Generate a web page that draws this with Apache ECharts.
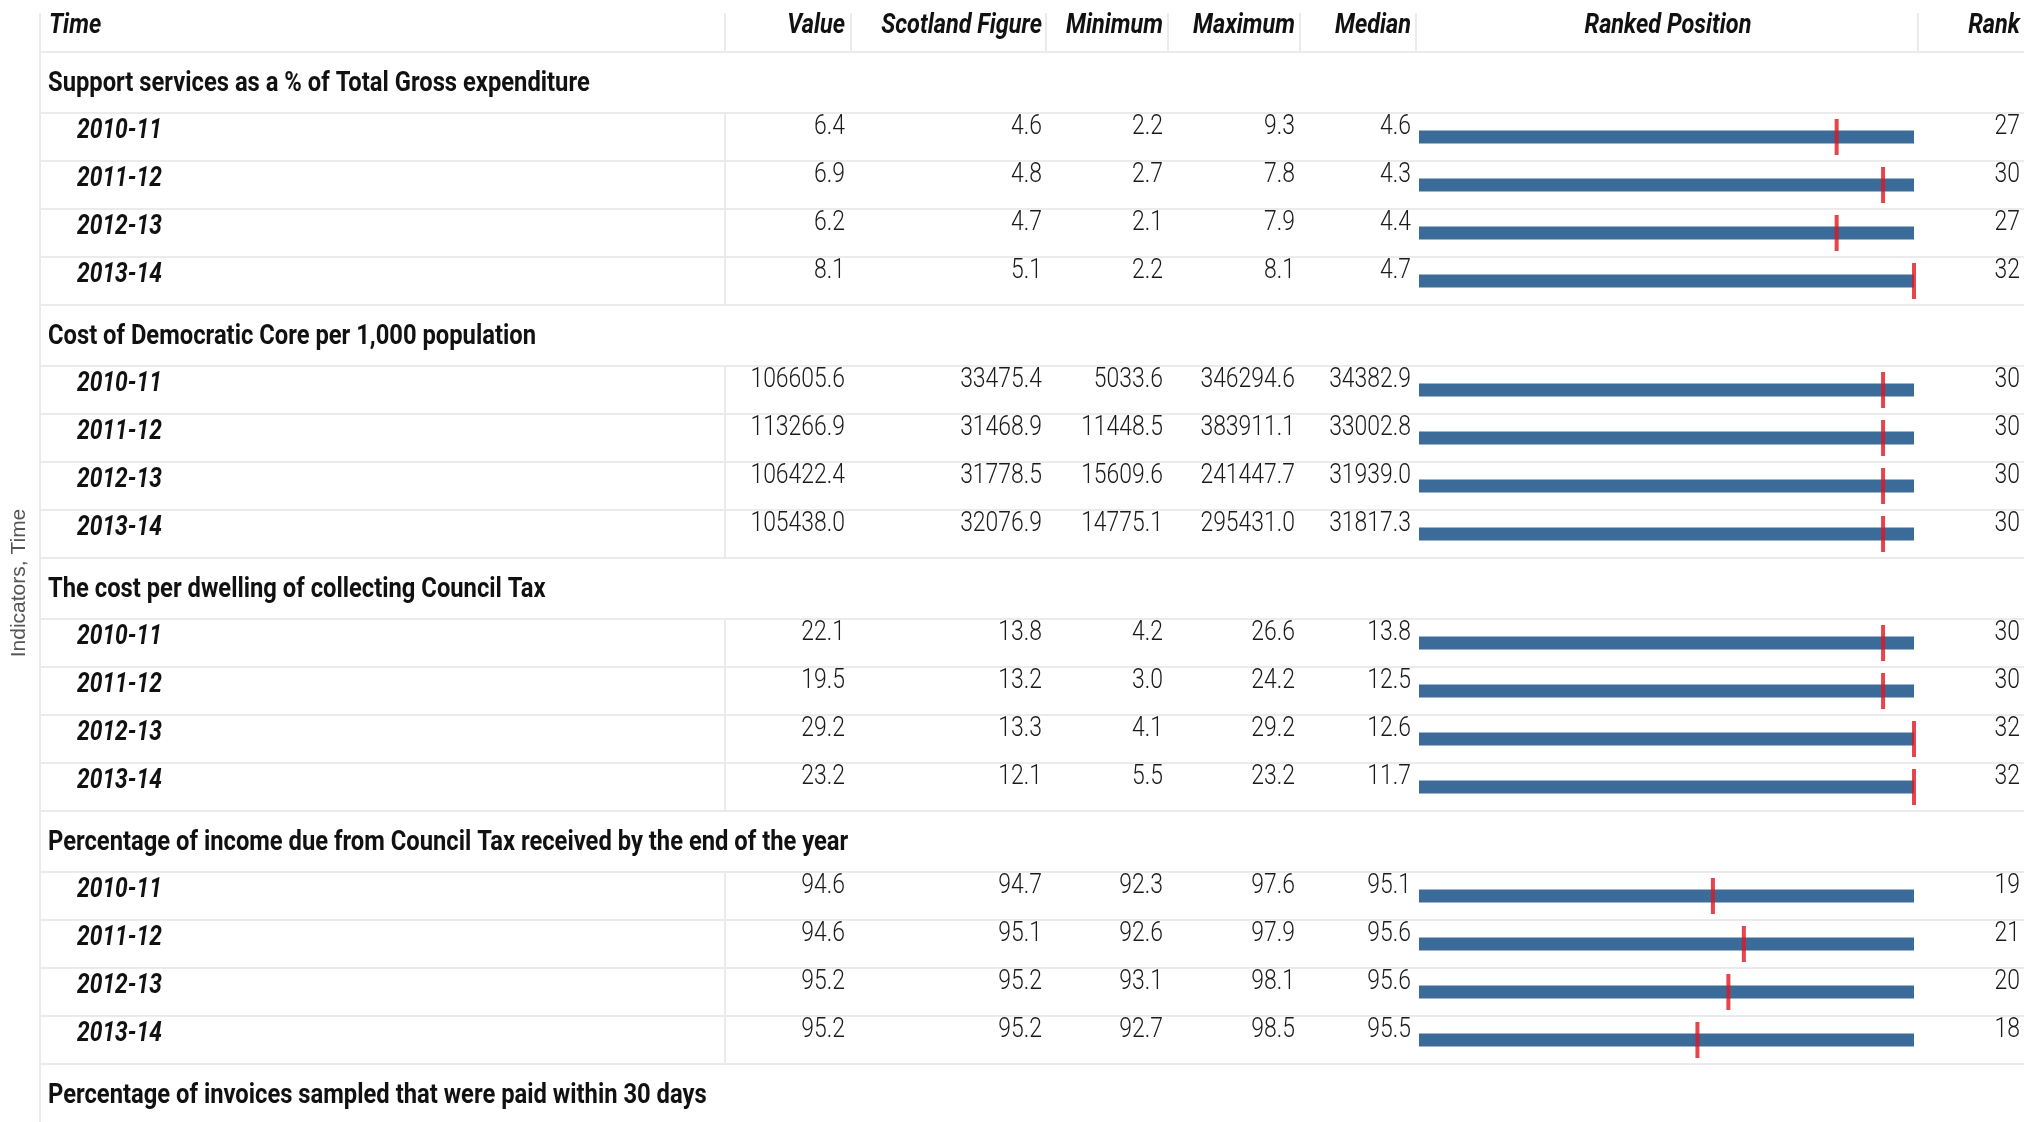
<!DOCTYPE html>
<html><head><meta charset="utf-8">
<script src="https://cdn.jsdelivr.net/npm/echarts/dist/echarts.min.js"></script>
<style>html,body{margin:0;padding:0;background:#fff}#c{width:2024px;height:1122px}</style>
</head><body><div id="c"></div>
<script>
// ---------- DATA ----------
var indicators = [
  'Support services as a % of Total Gross expenditure',
  'Cost of Democratic Core per 1,000 population',
  'The cost per dwelling of collecting Council Tax',
  'Percentage of income due from Council Tax received by the end of the year',
  'Percentage of invoices sampled that were paid within 30 days'
];
var years = ['2010-11', '2011-12', '2012-13', '2013-14'];
var columnTitles = ['Value', 'Scotland Figure', 'Minimum', 'Maximum', 'Median'];
var valueData = [
  [6.4, 6.9, 6.2, 8.1],
  [106605.6, 113266.9, 106422.4, 105438.0],
  [22.1, 19.5, 29.2, 23.2],
  [94.6, 94.6, 95.2, 95.2]
];
var scotlandData = [
  [4.6, 4.8, 4.7, 5.1],
  [33475.4, 31468.9, 31778.5, 32076.9],
  [13.8, 13.2, 13.3, 12.1],
  [94.7, 95.1, 95.2, 95.2]
];
var minimumData = [
  [2.2, 2.7, 2.1, 2.2],
  [5033.6, 11448.5, 15609.6, 14775.1],
  [4.2, 3.0, 4.1, 5.5],
  [92.3, 92.6, 93.1, 92.7]
];
var maximumData = [
  [9.3, 7.8, 7.9, 8.1],
  [346294.6, 383911.1, 241447.7, 295431.0],
  [26.6, 24.2, 29.2, 23.2],
  [97.6, 97.9, 98.1, 98.5]
];
var medianData = [
  [4.6, 4.3, 4.4, 4.7],
  [34382.9, 33002.8, 31939.0, 31817.3],
  [13.8, 12.5, 12.6, 11.7],
  [95.1, 95.6, 95.6, 95.5]
];
var rankData = [
  [27, 30, 27, 32],
  [30, 30, 30, 30],
  [30, 30, 32, 32],
  [19, 21, 20, 18]
];
var councilCount = 32;

// ---------- LAYOUT / STYLE ----------
var FONT = 'Roboto, "DejaVu Sans Condensed", sans-serif';
var LINE = '#ebebeb';
var HEADER_TOP = 13, HEADER_H = 52, TITLE_H = 61, ROW_H = 48;
var SECTION_H = TITLE_H + ROW_H * 4;
var TABLE_LEFT = 40, TABLE_RIGHT = 2024;
var colRight = [845, 1042, 1163, 1295, 1411];
var headerSeps = [725, 851, 1046, 1168, 1300, 1416, 1918];
var RANK_RIGHT = 2020, YEAR_X = 77, TITLE_X = 48, VALUE_SEP = 725;
var BAR_LEFT = 1419, BAR_W = 495;
var SX_TITLE = 0.88, SX_HEAD = 0.87, SX_YEAR = 0.845, SX_VAL = 0.85;

var chart = echarts.init(document.getElementById('c'), null, {renderer: 'canvas'});
var grids = [], xAxes = [], yAxes = [], series = [], graphics = [];
var dataColumns = [valueData, scotlandData, minimumData, maximumData, medianData];

function secTop(i) { return HEADER_H + i * SECTION_H; }
function lineEl(x1, y1, x2, y2) {
  return {type: 'line', shape: {x1: x1, y1: y1, x2: x2, y2: y2}, style: {stroke: LINE, lineWidth: 2}};
}

// header
graphics.push(lineEl(TABLE_LEFT, HEADER_TOP, TABLE_LEFT, 1122));
graphics.push(lineEl(TABLE_LEFT, HEADER_H, TABLE_RIGHT, HEADER_H));
headerSeps.forEach(function (x) { graphics.push(lineEl(x, HEADER_TOP, x, HEADER_H)); });
function headText(t, x, align) {
  graphics.push({type: 'text', x: x, y: 26, scaleX: SX_HEAD, style: {text: t, align: align, verticalAlign: 'middle',
    fontFamily: FONT, fontSize: 27, fontStyle: 'italic', fontWeight: 'bold', fill: '#111'}});
}
headText('Time', 49, 'left');
columnTitles.forEach(function (t, j) { headText(t, colRight[j], 'right'); });
headText('Ranked Position', 1668, 'center');
headText('Rank', RANK_RIGHT, 'right');

graphics.push({type: 'text', x: 19, y: 583, rotation: Math.PI / 2,
  style: {text: 'Indicators, Time', align: 'center', verticalAlign: 'middle',
    fontFamily: '"Liberation Sans", Arial, sans-serif', fontSize: 21, fill: '#555'}});

// section titles
indicators.forEach(function (name, i) {
  graphics.push({type: 'text', x: TITLE_X, y: secTop(i) + TITLE_H / 2 + 2, scaleX: SX_TITLE,
    style: {text: name, align: 'left', verticalAlign: 'middle', fontFamily: FONT,
      fontSize: 27, fontWeight: 'bold', fill: '#111'}});
  graphics.push(lineEl(TABLE_LEFT, secTop(i), TABLE_RIGHT, secTop(i)));
});

for (var i = 0; i < 4; i++) {
  (function (i) {
    grids.push({left: BAR_LEFT, width: BAR_W, top: secTop(i) + TITLE_H, height: ROW_H * 4});
    xAxes.push({type: 'value', gridIndex: i, min: 0, max: councilCount, show: false});
    yAxes.push({type: 'category', gridIndex: i, data: years, inverse: true, show: false});

    series.push({
      type: 'custom', xAxisIndex: i, yAxisIndex: i, z: 1, clip: false,
      data: years.map(function (y, k) { return [0, k]; }),
      encode: {x: 0, y: 1},
      renderItem: function (params, api) {
        var k = params.dataIndex;
        var cy = api.coord([0, k])[1];
        var kids = [];
        kids.push(lineEl(TABLE_LEFT, cy + ROW_H / 2, TABLE_RIGHT, cy + ROW_H / 2));
        kids.push(lineEl(TABLE_LEFT, cy - ROW_H / 2, TABLE_RIGHT, cy - ROW_H / 2));
        kids.push(lineEl(VALUE_SEP, cy - ROW_H / 2, VALUE_SEP, cy + ROW_H / 2));
        kids.push({type: 'text', x: YEAR_X, y: cy - 6, scaleX: SX_YEAR, style: {text: years[k], align: 'left', verticalAlign: 'middle',
          fontFamily: FONT, fontSize: 27, fontStyle: 'italic', fontWeight: 'bold', fill: '#111'}});
        dataColumns.forEach(function (arr, j) {
          kids.push({type: 'text', x: colRight[j], y: cy - 10, scaleX: SX_VAL, style: {text: arr[i][k].toFixed(1), align: 'right', verticalAlign: 'middle',
            fontFamily: FONT, fontSize: 27, fontWeight: 300, fill: '#1a1a1a'}});
        });
        kids.push({type: 'text', x: RANK_RIGHT, y: cy - 10, scaleX: SX_VAL, style: {text: String(rankData[i][k]), align: 'right', verticalAlign: 'middle',
          fontFamily: FONT, fontSize: 27, fontWeight: 300, fill: '#1a1a1a'}});
        return {type: 'group', children: kids};
      }
    });
    series.push({
      type: 'bar', xAxisIndex: i, yAxisIndex: i, z: 2, barWidth: 13, silent: true,
      itemStyle: {color: '#3a6b99'},
      data: years.map(function () { return councilCount; })
    });
    series.push({
      type: 'scatter', xAxisIndex: i, yAxisIndex: i, z: 3, symbol: 'rect', symbolSize: [4, 36], silent: true,
      itemStyle: {color: '#e0161e'},
      data: rankData[i].map(function (r, k) { return [r, k]; })
    });
  })(i);
}

chart.setOption({
  animation: false,
  grid: grids, xAxis: xAxes, yAxis: yAxes, series: series,
  graphic: graphics
});
</script>
</body></html>
